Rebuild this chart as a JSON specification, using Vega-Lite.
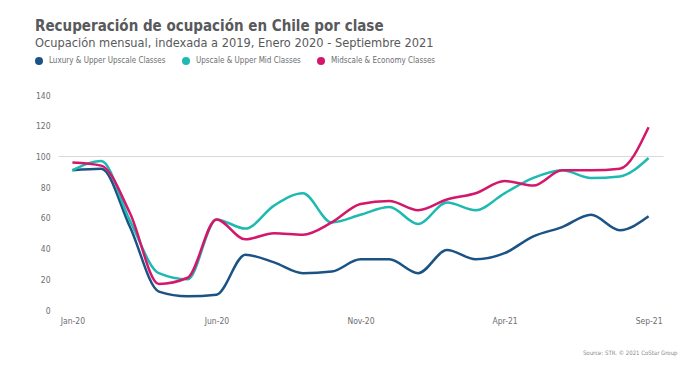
{
  "$schema": "https://vega.github.io/schema/vega-lite/v6.json",
  "width": 605,
  "height": 215,
  "autosize": "none",
  "padding": {"left": 58, "top": 95, "right": 37, "bottom": 56},
  "background": "white",
  "config": {
    "font": "DejaVu Sans Condensed, sans-serif",
    "view": {"stroke": null}
  },
  "title": {
    "text": "Recuperación de ocupación en Chile por clase",
    "subtitle": "Ocupación mensual, indexada a 2019, Enero 2020 - Septiembre 2021",
    "anchor": "start",
    "frame": "group",
    "dx": -23,
    "offset": 7,
    "fontSize": 15,
    "fontWeight": "bold",
    "color": "#58595b",
    "subtitleFontSize": 12.7,
    "subtitleColor": "#58595b",
    "subtitlePadding": 3
  },
  "data": {
    "values": [
      {"month": "Jan-20", "clase": "Luxury & Upper Upscale Classes", "valor": 91},
      {"month": "Feb-20", "clase": "Luxury & Upper Upscale Classes", "valor": 92},
      {"month": "Mar-20", "clase": "Luxury & Upper Upscale Classes", "valor": 54},
      {"month": "Apr-20", "clase": "Luxury & Upper Upscale Classes", "valor": 12},
      {"month": "May-20", "clase": "Luxury & Upper Upscale Classes", "valor": 9},
      {"month": "Jun-20", "clase": "Luxury & Upper Upscale Classes", "valor": 10},
      {"month": "Jul-20", "clase": "Luxury & Upper Upscale Classes", "valor": 36},
      {"month": "Aug-20", "clase": "Luxury & Upper Upscale Classes", "valor": 31},
      {"month": "Sep-20", "clase": "Luxury & Upper Upscale Classes", "valor": 24},
      {"month": "Oct-20", "clase": "Luxury & Upper Upscale Classes", "valor": 25},
      {"month": "Nov-20", "clase": "Luxury & Upper Upscale Classes", "valor": 33},
      {"month": "Dec-20", "clase": "Luxury & Upper Upscale Classes", "valor": 33},
      {"month": "Jan-21", "clase": "Luxury & Upper Upscale Classes", "valor": 24},
      {"month": "Feb-21", "clase": "Luxury & Upper Upscale Classes", "valor": 39},
      {"month": "Mar-21", "clase": "Luxury & Upper Upscale Classes", "valor": 33},
      {"month": "Apr-21", "clase": "Luxury & Upper Upscale Classes", "valor": 37},
      {"month": "May-21", "clase": "Luxury & Upper Upscale Classes", "valor": 48},
      {"month": "Jun-21", "clase": "Luxury & Upper Upscale Classes", "valor": 54},
      {"month": "Jul-21", "clase": "Luxury & Upper Upscale Classes", "valor": 62},
      {"month": "Aug-21", "clase": "Luxury & Upper Upscale Classes", "valor": 52},
      {"month": "Sep-21", "clase": "Luxury & Upper Upscale Classes", "valor": 61},
      {"month": "Jan-20", "clase": "Upscale & Upper Mid Classes", "valor": 91},
      {"month": "Feb-20", "clase": "Upscale & Upper Mid Classes", "valor": 97},
      {"month": "Mar-20", "clase": "Upscale & Upper Mid Classes", "valor": 58},
      {"month": "Apr-20", "clase": "Upscale & Upper Mid Classes", "valor": 24},
      {"month": "May-20", "clase": "Upscale & Upper Mid Classes", "valor": 20},
      {"month": "Jun-20", "clase": "Upscale & Upper Mid Classes", "valor": 59},
      {"month": "Jul-20", "clase": "Upscale & Upper Mid Classes", "valor": 53},
      {"month": "Aug-20", "clase": "Upscale & Upper Mid Classes", "valor": 68},
      {"month": "Sep-20", "clase": "Upscale & Upper Mid Classes", "valor": 76},
      {"month": "Oct-20", "clase": "Upscale & Upper Mid Classes", "valor": 57},
      {"month": "Nov-20", "clase": "Upscale & Upper Mid Classes", "valor": 62},
      {"month": "Dec-20", "clase": "Upscale & Upper Mid Classes", "valor": 67},
      {"month": "Jan-21", "clase": "Upscale & Upper Mid Classes", "valor": 56},
      {"month": "Feb-21", "clase": "Upscale & Upper Mid Classes", "valor": 70},
      {"month": "Mar-21", "clase": "Upscale & Upper Mid Classes", "valor": 65},
      {"month": "Apr-21", "clase": "Upscale & Upper Mid Classes", "valor": 76},
      {"month": "May-21", "clase": "Upscale & Upper Mid Classes", "valor": 86},
      {"month": "Jun-21", "clase": "Upscale & Upper Mid Classes", "valor": 91},
      {"month": "Jul-21", "clase": "Upscale & Upper Mid Classes", "valor": 86},
      {"month": "Aug-21", "clase": "Upscale & Upper Mid Classes", "valor": 87},
      {"month": "Sep-21", "clase": "Upscale & Upper Mid Classes", "valor": 99},
      {"month": "Jan-20", "clase": "Midscale & Economy Classes", "valor": 96},
      {"month": "Feb-20", "clase": "Midscale & Economy Classes", "valor": 94},
      {"month": "Mar-20", "clase": "Midscale & Economy Classes", "valor": 63},
      {"month": "Apr-20", "clase": "Midscale & Economy Classes", "valor": 17},
      {"month": "May-20", "clase": "Midscale & Economy Classes", "valor": 21},
      {"month": "Jun-20", "clase": "Midscale & Economy Classes", "valor": 59},
      {"month": "Jul-20", "clase": "Midscale & Economy Classes", "valor": 46},
      {"month": "Aug-20", "clase": "Midscale & Economy Classes", "valor": 50},
      {"month": "Sep-20", "clase": "Midscale & Economy Classes", "valor": 49},
      {"month": "Oct-20", "clase": "Midscale & Economy Classes", "valor": 57},
      {"month": "Nov-20", "clase": "Midscale & Economy Classes", "valor": 69},
      {"month": "Dec-20", "clase": "Midscale & Economy Classes", "valor": 71},
      {"month": "Jan-21", "clase": "Midscale & Economy Classes", "valor": 65},
      {"month": "Feb-21", "clase": "Midscale & Economy Classes", "valor": 72},
      {"month": "Mar-21", "clase": "Midscale & Economy Classes", "valor": 76},
      {"month": "Apr-21", "clase": "Midscale & Economy Classes", "valor": 84},
      {"month": "May-21", "clase": "Midscale & Economy Classes", "valor": 81},
      {"month": "Jun-21", "clase": "Midscale & Economy Classes", "valor": 91},
      {"month": "Jul-21", "clase": "Midscale & Economy Classes", "valor": 91},
      {"month": "Aug-21", "clase": "Midscale & Economy Classes", "valor": 92},
      {"month": "Sep-21", "clase": "Midscale & Economy Classes", "valor": 119}
    ]
  },
  "mark": {"type": "line", "interpolate": "monotone", "strokeWidth": 2.5},
  "encoding": {
    "x": {
      "field": "month",
      "type": "ordinal",
      "sort": null,
      "scale": {"type": "point", "padding": 0.5},
      "axis": {
        "values": ["Jan-20", "Jun-20", "Nov-20", "Apr-21", "Sep-21"],
        "labelAngle": 0,
        "labelFontSize": 8.5,
        "labelColor": "#6d6e71",
        "labelPadding": 6,
        "ticks": false,
        "tickSize": 0,
        "domain": false,
        "grid": false,
        "title": "Source: STR. © 2021 CoStar Group",
        "titleFontSize": 6,
        "titleFontWeight": "normal",
        "titleColor": "#8a8a8a",
        "titleAnchor": "end",
        "titleAlign": "right",
        "titleBaseline": "alphabetic",
        "titleX": 619,
        "titleY": 44
      }
    },
    "y": {
      "field": "valor",
      "type": "quantitative",
      "scale": {"domain": [0, 140], "nice": false},
      "axis": {
        "values": [0, 20, 40, 60, 80, 100, 120, 140],
        "title": null,
        "labelFontSize": 8.5,
        "labelColor": "#6d6e71",
        "labelPadding": 8,
        "ticks": false,
        "tickSize": 0,
        "domain": false,
        "gridColor": "#d9d9d9",
        "gridWidth": 1,
        "gridOpacity": {"condition": {"test": "datum.value === 100", "value": 1}, "value": 0}
      }
    },
    "color": {
      "field": "clase",
      "type": "nominal",
      "scale": {
        "domain": ["Luxury & Upper Upscale Classes", "Upscale & Upper Mid Classes", "Midscale & Economy Classes"],
        "range": ["#1b5384", "#1ebab2", "#d3176b"]
      },
      "legend": {
        "title": null,
        "orient": "none",
        "legendX": -23,
        "legendY": -38,
        "direction": "horizontal",
        "padding": 0,
        "symbolType": "circle",
        "symbolSize": 64,
        "symbolStrokeWidth": 0,
        "labelFontSize": 8,
        "labelColor": "#6d6e71",
        "labelOffset": 6,
        "columnPadding": 16,
        "encode": {
          "symbols": {
            "update": {
              "fill": {"scale": "color", "field": "value"},
              "fillOpacity": {"value": 1}
            }
          }
        }
      }
    }
  }
}
